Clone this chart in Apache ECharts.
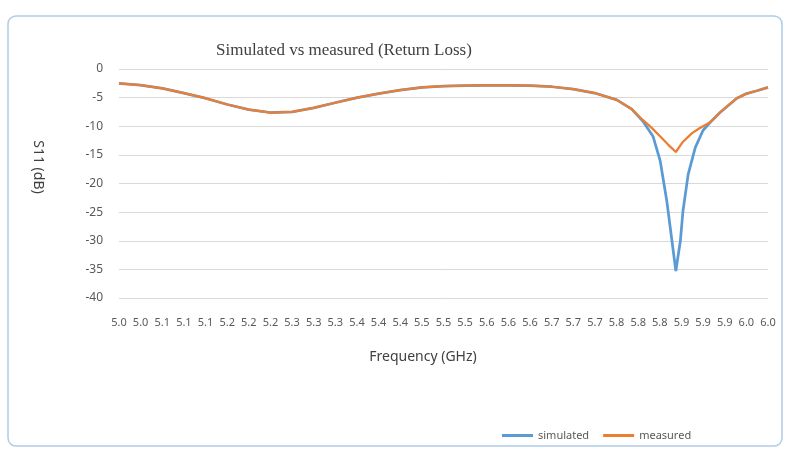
<!DOCTYPE html>
<html>
<head>
<meta charset="utf-8">
<script src="https://cdn.jsdelivr.net/npm/echarts@6/dist/echarts.min.js"></script>
<style>
  html, body { margin: 0; padding: 0; background: #fff; }
  #chart { width: 790px; height: 466px; }
</style>
</head>
<body>
<div id="chart"></div>
<script>
// x tick labels (31 categories, 1/30 GHz apart)
var tickLabels = ['5.0','5.0','5.1','5.1','5.1','5.2','5.2','5.2','5.3','5.3','5.3',
  '5.4','5.4','5.4','5.5','5.5','5.5','5.6','5.6','5.6','5.7','5.7','5.7',
  '5.8','5.8','5.8','5.9','5.9','5.9','6.0','6.0'];

// simulated S11 (GHz, dB)
var simFreq = [5.000, 5.033, 5.067, 5.100, 5.133, 5.167, 5.200, 5.233, 5.267, 5.300,
  5.333, 5.367, 5.400, 5.433, 5.467, 5.500, 5.533, 5.567, 5.600, 5.633,
  5.667, 5.700, 5.733, 5.767, 5.790, 5.807, 5.823, 5.834, 5.844, 5.852,
  5.858, 5.865, 5.869, 5.877, 5.888, 5.900, 5.911, 5.926, 5.952, 5.967,
  5.983, 6.000];
var simS11 = [-2.5, -2.8, -3.4, -4.2, -5.1, -6.2, -7.1, -7.6, -7.5, -6.8,
  -5.9, -5.0, -4.3, -3.7, -3.2, -3.0, -2.9, -2.85, -2.85, -2.9,
  -3.1, -3.5, -4.2, -5.4, -7.0, -9.1, -11.8, -16.1, -23.0, -30.0,
  -35.3, -30.0, -24.8, -18.4, -13.7, -10.7, -9.3, -7.6, -5.1, -4.3,
  -3.8, -3.2];

// measured S11 (GHz, dB)
var measFreq = [5.000, 5.033, 5.067, 5.100, 5.133, 5.167, 5.200, 5.233, 5.267, 5.300,
  5.333, 5.367, 5.400, 5.433, 5.467, 5.500, 5.533, 5.567, 5.600, 5.633,
  5.667, 5.700, 5.733, 5.767, 5.790, 5.807, 5.820, 5.834, 5.846, 5.858,
  5.869, 5.883, 5.895, 5.911, 5.926, 5.952, 5.967, 5.983, 6.000];
var measS11 = [-2.5, -2.8, -3.4, -4.2, -5.1, -6.2, -7.1, -7.6, -7.5, -6.8,
  -5.9, -5.0, -4.3, -3.7, -3.2, -3.0, -2.9, -2.85, -2.85, -2.9,
  -3.1, -3.5, -4.2, -5.4, -7.0, -8.9, -10.2, -11.8, -13.2, -14.5,
  -12.7, -11.2, -10.3, -9.3, -7.6, -5.1, -4.3, -3.8, -3.2];

function pairs(xs, ys) {
  var out = [];
  for (var i = 0; i < xs.length; i++) out.push([xs[i], ys[i]]);
  return out;
}

var chart = echarts.init(document.getElementById('chart'));
var font = 'Noto Sans';

chart.setOption({
  backgroundColor: '#fff',
  animation: false,
  title: {
    text: 'Simulated vs measured (Return Loss)',
    left: 211,
    top: 37,
    textStyle: { fontFamily: 'Liberation Serif', fontSize: 17, fontWeight: 'normal', color: '#404040' }
  },
  legend: {
    left: 497,
    top: 425,
    itemWidth: 31,
    itemHeight: 3,
    itemGap: 14,
    icon: 'rect',
    textStyle: { fontFamily: font, fontSize: 11, color: '#595959' },
    data: ['simulated', 'measured']
  },
  grid: { left: 119, right: 22, top: 69, bottom: 168 },
  xAxis: [
    {
      type: 'category',
      data: tickLabels,
      boundaryGap: false,
      axisLine: { show: false },
      axisTick: { show: false },
      splitLine: { show: false },
      axisLabel: { interval: 0, margin: 19, fontFamily: font, fontSize: 11, color: '#595959' }
    },
    { type: 'value', min: 5, max: 6, show: false }
  ],
  yAxis: {
    type: 'value',
    min: -40,
    max: 0,
    interval: 5,
    axisLine: { show: false },
    axisTick: { show: false },
    axisLabel: { margin: 16, fontFamily: font, fontSize: 12, color: '#595959' },
    splitLine: { lineStyle: { color: '#d9d9d9', width: 1 } }
  },
  graphic: [
    {
      type: 'rect',
      shape: { x: 8, y: 16, width: 774, height: 430, r: 8 },
      style: { fill: 'none', stroke: '#aecbe8', lineWidth: 1.5 },
      silent: true
    },
    {
      type: 'text',
      x: 38, y: 167,
      rotation: -Math.PI / 2,
      style: { text: 'S11 (dB)', fontFamily: font, fontSize: 14, fill: '#404040', align: 'center', verticalAlign: 'middle' }
    },
    {
      type: 'text',
      x: 423, y: 357,
      style: { text: 'Frequency (GHz)', fontFamily: font, fontSize: 14, fill: '#404040', align: 'center', verticalAlign: 'middle' }
    }
  ],
  series: [
    {
      name: 'simulated',
      type: 'line',
      xAxisIndex: 1,
      data: pairs(simFreq, simS11),
      symbol: 'none',
      lineStyle: { color: '#5b9bd5', width: 2.75 },
      itemStyle: { color: '#5b9bd5' }
    },
    {
      name: 'measured',
      type: 'line',
      xAxisIndex: 1,
      data: pairs(measFreq, measS11),
      symbol: 'none',
      lineStyle: { color: '#ed7d31', width: 2.25 },
      itemStyle: { color: '#ed7d31' }
    }
  ]
});
</script>
</body>
</html>
